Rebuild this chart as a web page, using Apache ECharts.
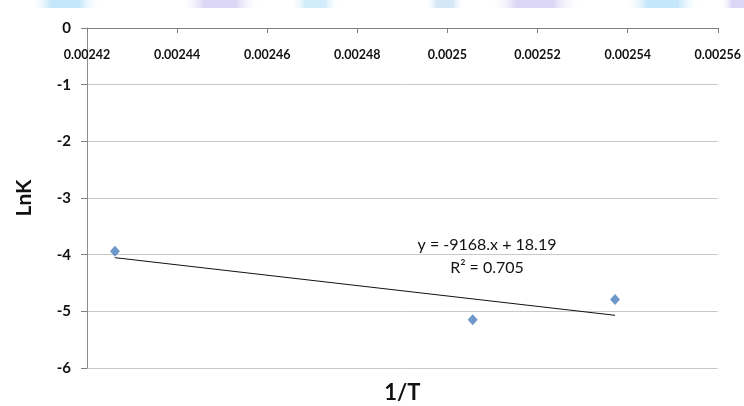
<!DOCTYPE html>
<html>
<head>
<meta charset="utf-8">
<script src="https://cdn.jsdelivr.net/npm/echarts@6/dist/echarts.min.js"></script>
<style>html,body{margin:0;padding:0;background:#fff;}#c{width:744px;height:406px;}</style>
</head>
<body>
<div id="c"></div>
<script>
const xValues = [0.0024262, 0.0025056, 0.0025372];
const lnK = [-3.94, -5.15, -4.79];
const trendX = [0.0024262, 0.0025372];
const trendY = [-4.053, -5.070];
const xTicks = [0.00242, 0.00244, 0.00246, 0.00248, 0.0025, 0.00252, 0.00254, 0.00256];
const equationLines = ['y = -9168.x + 18.19', 'R² = 0.705'];
const FONT = 'Lato, "Open Sans", sans-serif';

const chart = echarts.init(document.getElementById('c'));
const band = (x, w, color) => ({
  type: 'rect', shape: {x: x, y: 0, width: w, height: 8},
  style: {fill: new echarts.graphic.LinearGradient(0, 0, 1, 0, [
    {offset: 0, color: 'rgba(255,255,255,0)'},
    {offset: 0.3, color: color},
    {offset: 0.7, color: color},
    {offset: 1, color: 'rgba(255,255,255,0)'}])},
  silent: true
});
chart.setOption({
  backgroundColor: '#fff',
  animation: false,
  grid: {left: 87, right: 25, top: 28, bottom: 35},
  xAxis: {
    type: 'value', position: 'top', min: 0.00242, max: 0.00256, interval: 0.00002,
    name: '1/T', nameLocation: 'middle', nameGap: -376,
    nameTextStyle: {fontFamily: FONT, fontSize: 22, fontWeight: 'bold', color: '#111'},
    axisLine: {show: true, onZero: false, lineStyle: {color: '#7f7f7f', width: 1}},
    axisTick: {show: true, inside: true, length: 5, lineStyle: {color: '#7f7f7f'}},
    axisLabel: {inside: true, margin: 20, fontFamily: FONT, fontSize: 12.5, fontWeight: 'bold', color: '#111',
      formatter: v => { const t = xTicks.find(k => Math.abs(k - v) < 1e-9); return t !== undefined ? String(t) : ''; }},
    splitLine: {show: false}
  },
  yAxis: {
    type: 'value', min: -6, max: 0, interval: 1,
    name: 'LnK', nameLocation: 'middle', nameGap: 52, nameRotate: 90,
    nameTextStyle: {fontFamily: FONT, fontSize: 21, fontWeight: 'bold', color: '#111'},
    axisLine: {show: true, lineStyle: {color: '#8c8c8c', width: 1}},
    axisTick: {show: true, length: 6, lineStyle: {color: '#7f7f7f'}},
    axisLabel: {margin: 16, fontFamily: FONT, fontSize: 15, fontWeight: 'bold', color: '#111'},
    splitLine: {show: true, lineStyle: {color: '#c8c8c8', width: 1}}
  },
  series: [
    {
      type: 'line', data: trendX.map((x, i) => [x, trendY[i]]),
      symbol: 'none', lineStyle: {color: '#111', width: 1}, silent: true, z: 2
    },
    {
      type: 'scatter', data: xValues.map((x, i) => [x, lnK[i]]),
      symbol: 'diamond', symbolSize: [10, 11], itemStyle: {color: '#4a7ebb'}, z: 3
    }
  ],
  graphic: [
    band(30, 70, 'rgba(190,228,250,0.9)'),
    band(180, 80, 'rgba(215,210,245,0.9)'),
    band(290, 50, 'rgba(200,232,250,0.8)'),
    band(425, 40, 'rgba(200,225,245,0.8)'),
    band(490, 90, 'rgba(215,210,245,0.9)'),
    band(625, 75, 'rgba(190,228,250,0.9)'),
    band(720, 40, 'rgba(215,210,245,0.9)'),
    {type: 'text', x: 487, y: 245, style: {text: equationLines[0], fontFamily: FONT, fontSize: 16, fill: '#111', align: 'center', verticalAlign: 'middle'}},
    {type: 'text', x: 487, y: 268, style: {text: equationLines[1], fontFamily: FONT, fontSize: 16, fill: '#111', align: 'center', verticalAlign: 'middle'}}
  ]
});
</script>
</body>
</html>
